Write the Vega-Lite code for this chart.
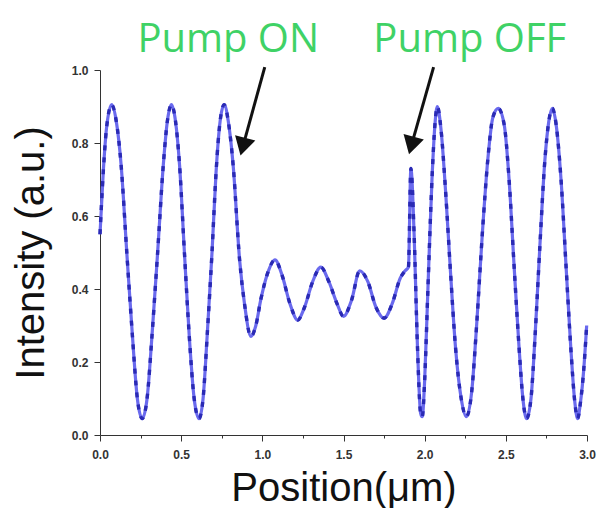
{
  "$schema": "https://vega.github.io/schema/vega-lite/v6.json",
  "width": 487,
  "height": 365,
  "autosize": "none",
  "padding": {"left": 100, "top": 70, "right": 13, "bottom": 73},
  "background": "white",
  "config": {"view": {"stroke": null}},
  "datasets": {
    "curve": [
      {"pos": 0.0, "intensity": 0.55}, {"pos": 0.02, "intensity": 0.72}, {"pos": 0.04, "intensity": 0.84},
      {"pos": 0.072, "intensity": 0.905}, {"pos": 0.10, "intensity": 0.86}, {"pos": 0.13, "intensity": 0.74},
      {"pos": 0.165, "intensity": 0.50}, {"pos": 0.20, "intensity": 0.27}, {"pos": 0.23, "intensity": 0.10},
      {"pos": 0.26, "intensity": 0.045}, {"pos": 0.29, "intensity": 0.10}, {"pos": 0.32, "intensity": 0.27},
      {"pos": 0.355, "intensity": 0.50}, {"pos": 0.39, "intensity": 0.74}, {"pos": 0.415, "intensity": 0.86},
      {"pos": 0.44, "intensity": 0.905}, {"pos": 0.465, "intensity": 0.86}, {"pos": 0.49, "intensity": 0.74},
      {"pos": 0.52, "intensity": 0.50}, {"pos": 0.55, "intensity": 0.27}, {"pos": 0.58, "intensity": 0.10},
      {"pos": 0.61, "intensity": 0.045}, {"pos": 0.635, "intensity": 0.10}, {"pos": 0.66, "intensity": 0.27},
      {"pos": 0.69, "intensity": 0.50}, {"pos": 0.715, "intensity": 0.72}, {"pos": 0.74, "intensity": 0.86},
      {"pos": 0.765, "intensity": 0.905}, {"pos": 0.79, "intensity": 0.86}, {"pos": 0.82, "intensity": 0.74},
      {"pos": 0.86, "intensity": 0.48}, {"pos": 0.89, "intensity": 0.36}, {"pos": 0.93, "intensity": 0.27},
      {"pos": 0.96, "intensity": 0.30}, {"pos": 0.99, "intensity": 0.37}, {"pos": 1.03, "intensity": 0.44},
      {"pos": 1.078, "intensity": 0.48}, {"pos": 1.12, "intensity": 0.44}, {"pos": 1.17, "intensity": 0.36},
      {"pos": 1.218, "intensity": 0.315}, {"pos": 1.26, "intensity": 0.35}, {"pos": 1.31, "intensity": 0.42},
      {"pos": 1.36, "intensity": 0.46}, {"pos": 1.41, "intensity": 0.42}, {"pos": 1.46, "intensity": 0.36},
      {"pos": 1.50, "intensity": 0.325}, {"pos": 1.55, "intensity": 0.37}, {"pos": 1.60, "intensity": 0.45},
      {"pos": 1.65, "intensity": 0.42}, {"pos": 1.70, "intensity": 0.35}, {"pos": 1.75, "intensity": 0.32},
      {"pos": 1.80, "intensity": 0.36}, {"pos": 1.85, "intensity": 0.43}, {"pos": 1.88, "intensity": 0.45},
      {"pos": 1.90, "intensity": 0.46}, {"pos": 1.915, "intensity": 0.73}, {"pos": 1.935, "intensity": 0.55},
      {"pos": 1.955, "intensity": 0.25}, {"pos": 1.975, "intensity": 0.06}, {"pos": 1.985, "intensity": 0.05},
      {"pos": 2.00, "intensity": 0.15}, {"pos": 2.02, "intensity": 0.40}, {"pos": 2.045, "intensity": 0.70},
      {"pos": 2.065, "intensity": 0.86}, {"pos": 2.078, "intensity": 0.90}, {"pos": 2.10, "intensity": 0.84},
      {"pos": 2.13, "intensity": 0.66}, {"pos": 2.16, "intensity": 0.44}, {"pos": 2.19, "intensity": 0.24},
      {"pos": 2.225, "intensity": 0.10}, {"pos": 2.257, "intensity": 0.05}, {"pos": 2.29, "intensity": 0.12},
      {"pos": 2.32, "intensity": 0.30}, {"pos": 2.355, "intensity": 0.55}, {"pos": 2.39, "intensity": 0.76},
      {"pos": 2.42, "intensity": 0.87}, {"pos": 2.453, "intensity": 0.895}, {"pos": 2.49, "intensity": 0.85},
      {"pos": 2.52, "intensity": 0.70}, {"pos": 2.55, "intensity": 0.47}, {"pos": 2.58, "intensity": 0.25},
      {"pos": 2.605, "intensity": 0.10}, {"pos": 2.628, "intensity": 0.045}, {"pos": 2.655, "intensity": 0.10},
      {"pos": 2.68, "intensity": 0.27}, {"pos": 2.71, "intensity": 0.52}, {"pos": 2.74, "intensity": 0.75},
      {"pos": 2.765, "intensity": 0.86}, {"pos": 2.786, "intensity": 0.895}, {"pos": 2.81, "intensity": 0.85},
      {"pos": 2.84, "intensity": 0.70}, {"pos": 2.87, "intensity": 0.47}, {"pos": 2.90, "intensity": 0.24},
      {"pos": 2.925, "intensity": 0.09}, {"pos": 2.942, "intensity": 0.045}, {"pos": 2.96, "intensity": 0.09},
      {"pos": 2.98, "intensity": 0.18}, {"pos": 2.998, "intensity": 0.30}
    ],
    "notes": [
      {"label": "Pump ON", "tx": 0.79, "ty": 1.05, "sx": 1.015, "sy": 1.008, "hx": 0.88, "hy": 0.79},
      {"label": "Pump OFF", "tx": 2.278, "ty": 1.05, "sx": 2.055, "sy": 1.008, "hx": 1.918, "hy": 0.793}
    ]
  },
  "layer": [
    {
      "data": {"name": "curve"},
      "mark": {"type": "line", "color": "#6a6aee", "strokeWidth": 3.2, "interpolate": "monotone", "clip": false},
      "encoding": {
        "x": {
          "field": "pos", "type": "quantitative", "title": "Position(\u03bcm)",
          "scale": {"domain": [0, 3], "nice": false, "zero": false},
          "axis": {
            "values": [0, 0.25, 0.5, 0.75, 1, 1.25, 1.5, 1.75, 2, 2.25, 2.5, 2.75, 3],
            "labelExpr": "(datum.value * 2) % 1 == 0 ? format(datum.value, '.1f') : ''",
            "tickSize": {"condition": {"test": "(datum.value * 2) % 1 == 0", "value": 6}, "value": 3},
            "grid": false, "domainColor": "#333", "tickColor": "#333",
            "labelFont": "Liberation Sans", "labelFontSize": 12, "labelFontWeight": "bold", "labelColor": "#333",
            "labelPadding": 8, "labelOverlap": false, "labelFlush": false,
            "titleFont": "Liberation Sans", "titleFontSize": 40, "titleFontWeight": "normal", "titleColor": "#111",
            "titlePadding": 8
          }
        },
        "y": {
          "field": "intensity", "type": "quantitative", "title": "Intensity (a.u.)",
          "scale": {"domain": [0, 1], "nice": false},
          "axis": {
            "values": [0, 0.1, 0.2, 0.3, 0.4, 0.5, 0.6, 0.7, 0.8, 0.9, 1.0],
            "labelExpr": "round(datum.value * 10) % 2 == 0 ? format(datum.value, '.1f') : ''",
            "tickSize": {"condition": {"test": "round(datum.value * 10) % 2 == 0", "value": 6}, "value": 3},
            "grid": false, "domainColor": "#333", "tickColor": "#333",
            "labelFont": "Liberation Sans", "labelFontSize": 12, "labelFontWeight": "bold", "labelColor": "#333",
            "labelPadding": 6, "labelOverlap": false, "labelFlush": false,
            "titleFont": "Liberation Sans", "titleFontSize": 40, "titleFontWeight": "normal", "titleColor": "#111",
            "titlePadding": 20
          }
        }
      }
    },
    {
      "data": {"name": "curve"},
      "mark": {"type": "line", "color": "#2a2ab4", "strokeWidth": 3.4, "strokeDash": [5, 7], "interpolate": "monotone", "clip": false},
      "encoding": {
        "x": {"field": "pos", "type": "quantitative", "title": "Position(\u03bcm)"},
        "y": {"field": "intensity", "type": "quantitative", "title": "Intensity (a.u.)"}
      }
    },
    {
      "data": {"name": "notes"},
      "mark": {"type": "rule", "color": "#111", "strokeWidth": 3, "clip": false},
      "encoding": {
        "x": {"field": "sx", "type": "quantitative", "title": "Position(\u03bcm)"},
        "y": {"field": "sy", "type": "quantitative", "title": "Intensity (a.u.)"},
        "x2": {"field": "hx"},
        "y2": {"field": "hy"}
      }
    },
    {
      "data": {"name": "notes"},
      "mark": {"type": "point", "shape": "triangle-down", "filled": true, "color": "#111", "size": 440, "opacity": 1, "angle": 15, "clip": false},
      "encoding": {
        "x": {"field": "hx", "type": "quantitative", "title": "Position(\u03bcm)"},
        "y": {"field": "hy", "type": "quantitative", "title": "Intensity (a.u.)"}
      }
    },
    {
      "data": {"name": "notes"},
      "mark": {"type": "text", "font": "Open Sans", "fontSize": 40, "color": "#3fd266", "align": "center", "baseline": "alphabetic", "clip": false},
      "encoding": {
        "x": {"field": "tx", "type": "quantitative", "title": "Position(\u03bcm)"},
        "y": {"field": "ty", "type": "quantitative", "title": "Intensity (a.u.)"},
        "text": {"field": "label"}
      }
    }
  ]
}
